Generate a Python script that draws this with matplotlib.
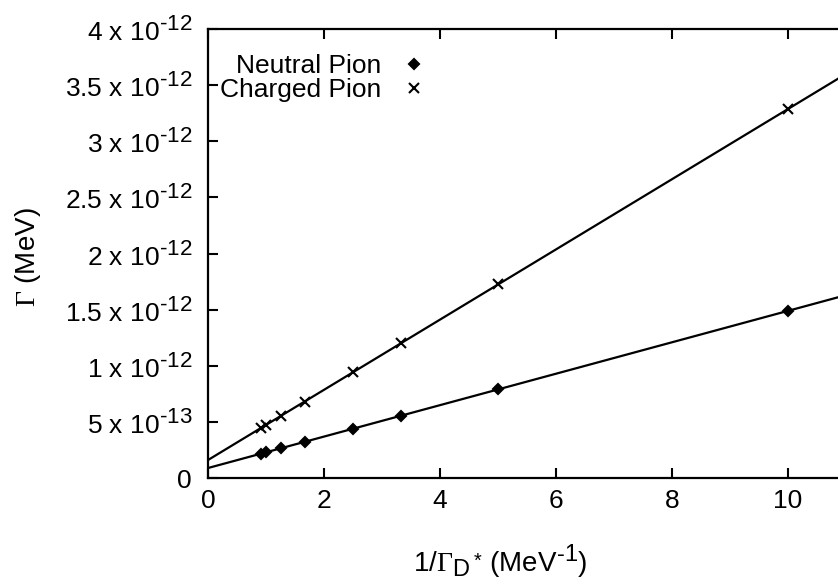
import numpy as np
import matplotlib
matplotlib.use('Agg')
import matplotlib.pyplot as plt
import matplotlib._mathtext as mtext

plt.rcParams['font.family'] = ['Liberation Sans', 'DejaVu Sans']
plt.rcParams['mathtext.fontset'] = 'custom'
plt.rcParams['mathtext.rm'] = 'Liberation Sans'
plt.rcParams['mathtext.it'] = 'Liberation Sans:italic'
plt.rcParams['mathtext.sf'] = 'Liberation Serif'
# gnuplot style superscripts are bigger than mathtext's default
mtext.SHRINK_FACTOR = 0.85

# data
inv_width = [0.909, 1.0, 1.25, 1.667, 2.5, 3.333, 5.0, 10.0]
neutral = [0.216e-12, 0.229e-12, 0.264e-12, 0.322e-12, 0.439e-12, 0.556e-12, 0.789e-12, 1.489e-12]
charged = [0.444e-12, 0.473e-12, 0.551e-12, 0.681e-12, 0.942e-12, 1.203e-12, 1.724e-12, 3.287e-12]

xticks = [0, 2, 4, 6, 8, 10]
yticks = [0, 0.5e-12, 1e-12, 1.5e-12, 2e-12, 2.5e-12, 3e-12, 3.5e-12, 4e-12]
H = '\u2010'
ylabels = ['0', r'5 x 10$^{%s13}$' % H, r'1 x 10$^{%s12}$' % H, r'1.5 x 10$^{%s12}$' % H,
           r'2 x 10$^{%s12}$' % H, r'2.5 x 10$^{%s12}$' % H, r'3 x 10$^{%s12}$' % H,
           r'3.5 x 10$^{%s12}$' % H, r'4 x 10$^{%s12}$' % H]

fs = 19
fig = plt.figure(figsize=(8.38, 5.8), dpi=100)
# plot box runs off the right edge like the original
ax = fig.add_axes([208/838, 102/580, 696/838, 449/580])
xmin, xmax = 0, 12

for y, mk, ms, lab in [(neutral, 'D', 5.5, 'Neutral Pion'), (charged, 'x', 6.5, 'Charged Pion')]:
    ax.plot(inv_width, y, mk, color='black', ms=ms, mew=1.5, label=lab)
    p = np.polyfit(inv_width, y, 1)
    xx = np.array([xmin, xmax])
    ax.plot(xx, np.polyval(p, xx), color='black', lw=1.6)

ax.set_xlim(xmin, xmax)
ax.set_ylim(0, 4e-12)
ax.set_xticks(xticks)
ax.set_xticklabels([str(t) for t in xticks])
ax.set_yticks(yticks)
ax.set_yticklabels(ylabels)

ax.spines['right'].set_visible(False)
for s in ['left', 'bottom', 'top']:
    ax.spines[s].set_linewidth(1.6)
ax.tick_params(direction='in', length=7, width=1.5, labelsize=fs, top=True, right=False)
ax.tick_params(axis='x', pad=8)
ax.tick_params(axis='y', pad=11.5)

ax.set_ylabel(r'$\mathsf{\Gamma}$ (MeV)', fontsize=20, va='center')
ax.yaxis.set_label_coords(-0.2586, 0.492)
ax.set_xlabel(r'1/$\mathsf{\Gamma}_{\mathrm{D}^*}\,$(MeV$^{%s1}$)' % H, fontsize=20, va='center')
ax.xaxis.set_label_coords(0.42, -0.187)

ax.legend(loc='upper right', bbox_to_anchor=(0.315, 0.944), frameon=False, markerfirst=False,
          fontsize=fs, handlelength=1.0, handletextpad=0.75, labelspacing=0.0,
          borderaxespad=0, borderpad=0)

fig.savefig('out.png', dpi=100)
